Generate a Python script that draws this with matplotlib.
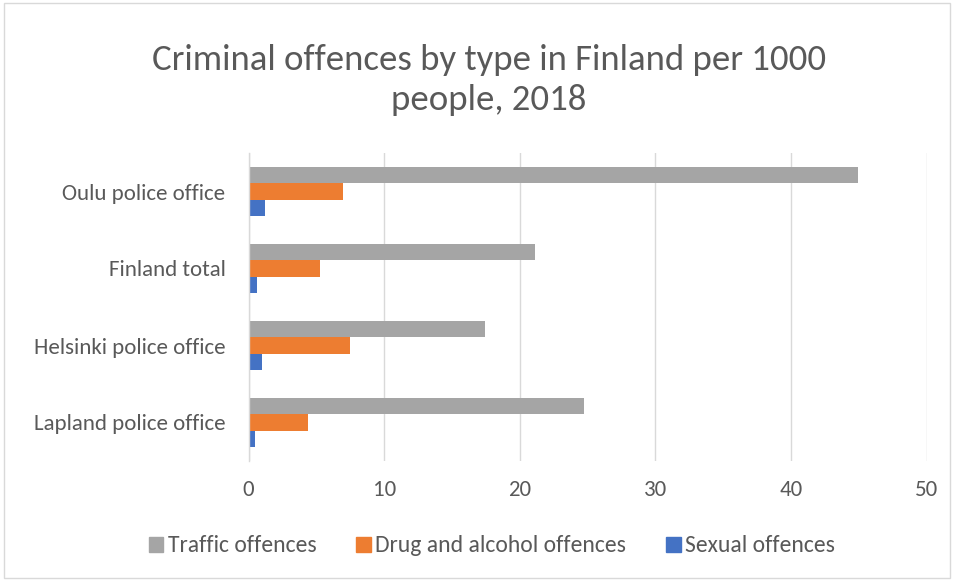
import matplotlib
matplotlib.use("Agg")
import matplotlib.pyplot as plt
from matplotlib.patches import Rectangle, Patch
import numpy as np

plt.rcParams['font.family'] = ['Carlito', 'Liberation Sans Narrow', 'Open Sans', 'DejaVu Sans']

categories = ["Lapland police office", "Helsinki police office", "Finland total", "Oulu police office"]
traffic = [24.7, 17.4, 21.1, 44.9]
drug = [4.4, 7.5, 5.25, 7.0]
sexual = [0.5, 1.0, 0.65, 1.2]
series_names = ["Traffic offences", "Drug and alcohol offences", "Sexual offences"]
colors = ["#A5A5A5", "#ED7D31", "#4472C4"]
xticks = [0, 10, 20, 30, 40, 50]
title = "Criminal offences by type in Finland per 1000\npeople, 2018"

fig = plt.figure(figsize=(9.55, 5.81), dpi=100)
ax = fig.add_axes([248.5/955, 1-461/581, (926.7-248.5)/955, (461-153)/581])

y = np.arange(len(categories))
h = 0.208
ax.barh(y + h, traffic, height=h, color=colors[0], label=series_names[0])
ax.barh(y, drug, height=h, color=colors[1], label=series_names[1])
ax.barh(y - h, sexual, height=h, color=colors[2], label=series_names[2])

ax.set_xlim(0, 50)
ax.set_ylim(-0.5, len(categories) - 0.5)
ax.set_xticks(xticks)
ax.set_yticks(y)
ax.set_yticklabels(categories)
ax.xaxis.grid(True, color="#D9D9D9", linewidth=1)
ax.set_axisbelow(True)
for s in ["top", "right", "bottom"]:
    ax.spines[s].set_visible(False)
ax.spines["left"].set_color("#D9D9D9")
ax.spines["left"].set_linewidth(1)
ax.tick_params(axis="both", length=0, labelsize=16.5, colors="#595959")
ax.tick_params(axis="y", pad=16.5)
ax.tick_params(axis="x", pad=14)

fig.text(489/955, 1-80/581, title, ha="center", va="center", fontsize=26.5,
         color="#595959", linespacing=1.32)

handles = [Patch(color=c) for c in colors]
fig.legend(handles, series_names, loc="center", bbox_to_anchor=(492/955, 1-546/581),
           ncol=3, frameon=False, fontsize=17, handlelength=0.6, handleheight=0.6,
           handletextpad=0.2, columnspacing=1.7, labelcolor="#595959")

fig.patches.append(Rectangle((4/955, 3/581), 946/955, 575/581, transform=fig.transFigure,
                             fill=False, edgecolor="#D9D9D9", linewidth=1))

fig.savefig("out.png", dpi=100, facecolor="white")
